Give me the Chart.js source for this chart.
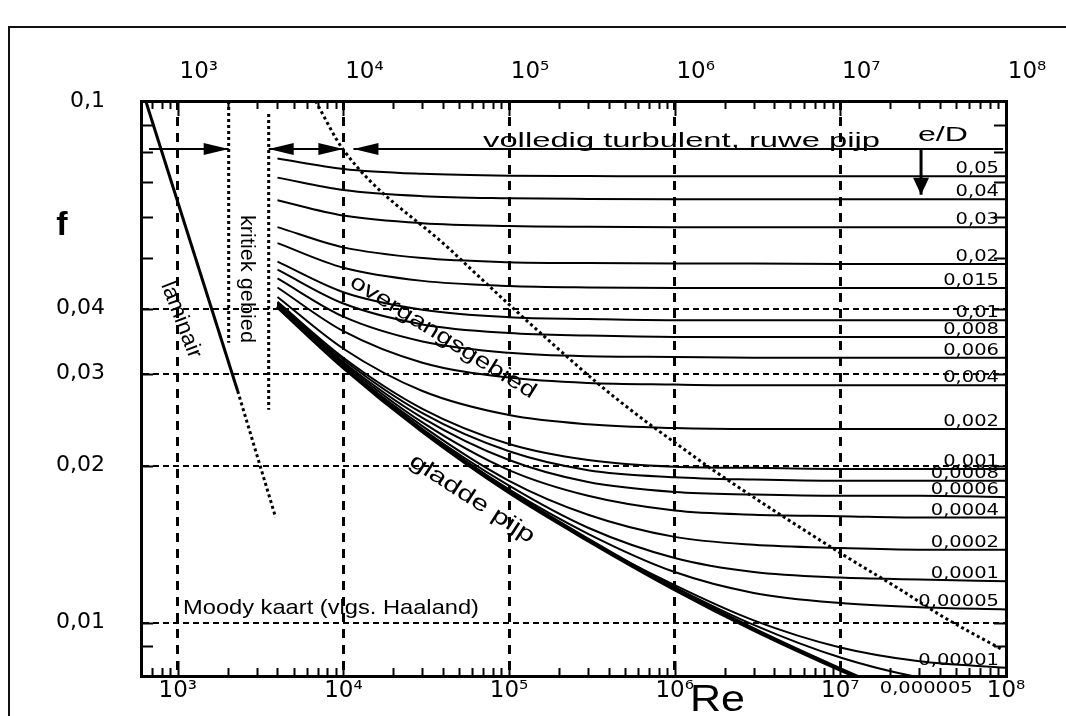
<!DOCTYPE html>
<html>
<head>
<meta charset="utf-8">
<title>Moody kaart</title>
<script src="https://cdn.jsdelivr.net/npm/chart.js@4.4.0/dist/chart.umd.min.js"></script>
<style>
  html, body { margin: 0; padding: 0; background: #fff; }
  #wrap { position: relative; width: 1066px; height: 716px; overflow: hidden; }
  #frame { position: absolute; left: 8px; top: 26px; right: -10px; bottom: -10px;
           border-left: 2px solid #111; border-top: 2px solid #111; pointer-events: none; }
</style>
</head>
<body>
<div id="wrap">
  <canvas id="moodyChart" width="1066" height="716"></canvas>
  <div id="frame"></div>
</div>
<script>
const reSamples = [4000, 1e4, 3e4, 1e5, 3e5, 1e6, 3e6, 1e7, 3e7, 1e8];

// friction factor f per relative roughness e/D
const f_0_05     = [0.0776, 0.0741, 0.0725, 0.0719, 0.0718, 0.0717, 0.0717, 0.0717, 0.0717, 0.0717];
const f_0_04     = [0.0713, 0.0675, 0.0657, 0.0651, 0.0649, 0.0648, 0.0648, 0.0648, 0.0648, 0.0648];
const f_0_03     = [0.0645, 0.0603, 0.0583, 0.0576, 0.0574, 0.0573, 0.0573, 0.0573, 0.0573, 0.0573];
const f_0_02     = [0.0573, 0.0524, 0.0500, 0.0491, 0.0489, 0.0488, 0.0488, 0.0487, 0.0487, 0.0487];
const f_0_015    = [0.0534, 0.0479, 0.0452, 0.0442, 0.0439, 0.0438, 0.0438, 0.0438, 0.0438, 0.0438];
const f_0_01     = [0.0492, 0.0430, 0.0398, 0.0385, 0.0382, 0.0380, 0.0380, 0.0380, 0.0380, 0.0380];
const f_0_008    = [0.0475, 0.0409, 0.0373, 0.0359, 0.0355, 0.0353, 0.0353, 0.0353, 0.0353, 0.0353];
const f_0_006    = [0.0457, 0.0386, 0.0346, 0.0329, 0.0324, 0.0323, 0.0322, 0.0322, 0.0322, 0.0322];
const f_0_004    = [0.0439, 0.0362, 0.0315, 0.0295, 0.0288, 0.0286, 0.0285, 0.0285, 0.0285, 0.0285];
const f_0_002    = [0.0421, 0.0335, 0.0278, 0.0250, 0.0240, 0.0236, 0.0235, 0.0235, 0.0235, 0.0235];
const f_0_001    = [0.0412, 0.0322, 0.0257, 0.0220, 0.0205, 0.0199, 0.0198, 0.0197, 0.0197, 0.0197];
const f_0_0008   = [0.0410, 0.0319, 0.0252, 0.0213, 0.0196, 0.0190, 0.0188, 0.0187, 0.0187, 0.0187];
const f_0_0006   = [0.0409, 0.0316, 0.0247, 0.0205, 0.0186, 0.0178, 0.0176, 0.0175, 0.0175, 0.0174];
const f_0_0004   = [0.0407, 0.0314, 0.0242, 0.0196, 0.0175, 0.0164, 0.0161, 0.0160, 0.0159, 0.0159];
const f_0_0002   = [0.0406, 0.0311, 0.0238, 0.0187, 0.0161, 0.0146, 0.0141, 0.0139, 0.0138, 0.0138];
const f_0_0001   = [0.0405, 0.0310, 0.0235, 0.0183, 0.0152, 0.0133, 0.0125, 0.0122, 0.0121, 0.0120];
const f_0_00005  = [0.0405, 0.0309, 0.0234, 0.0180, 0.0148, 0.0125, 0.0114, 0.0109, 0.0107, 0.0106];
const f_0_00001  = [0.0404, 0.0309, 0.0233, 0.0179, 0.0144, 0.0118, 0.0101, 0.00896, 0.00843, 0.00819];
const f_0_000005 = [0.0404, 0.0309, 0.0233, 0.0178, 0.0144, 0.0117, 0.0099, 0.00857, 0.00785, 0.00747];
const f_smooth   = [0.0404, 0.0309, 0.0233, 0.0178, 0.0144, 0.0116, 0.0097, 0.00813, 0.00700, 0.00602];

const roughCurves = [f_0_05, f_0_04, f_0_03, f_0_02, f_0_015, f_0_01, f_0_008, f_0_006, f_0_004,
  f_0_002, f_0_001, f_0_0008, f_0_0006, f_0_0004, f_0_0002, f_0_0001, f_0_00005, f_0_00001, f_0_000005];
const roughLabels = ['0,05', '0,04', '0,03', '0,02', '0,015', '0,01', '0,008', '0,006', '0,004',
  '0,002', '0,001', '0,0008', '0,0006', '0,0004', '0,0002', '0,0001', '0,00005', '0,00001', '0,000005'];

// laminar line (64/Re), solid part and dotted continuation
const laminarRe = [641, 2300];
const laminarF = [0.1, 0.0278];
const laminarDotRe = [2300, 3900];
const laminarDotF = [0.0278, 0.0159];

// critical zone borders
const criticalRe = [2030, 3540];
const criticalTopF = [0.1, 0.0944];
const criticalBottomF = [0.0344, 0.0256];

// border of the fully turbulent zone (dotted)
const boundaryRe = [6790, 1e4, 44400, 97800, 341000, 647000, 1.01e6, 1.71e6, 9.98e6, 2.30e7, 4.17e7, 9.46e7];
const boundaryF = [0.1, 0.0806, 0.0518, 0.0410, 0.0288, 0.0245, 0.0221, 0.0196, 0.0136, 0.01157, 0.01026, 0.00888];

// arrow row
const arrowF = 0.0809;
const arrowSegments = [[670, 2030], [3540, 1e4], [11500, 9.6e7]];
const arrowTips = [[2030, 'right'], [3540, 'left'], [1e4, 'right'], [11500, 'left']];
const edArrowRe = 3.07e7;
const edArrowF = [0.0809, 0.0661];

// axes
const xTickValues = [1e3, 1e4, 1e5, 1e6, 1e7, 1e8];
const xTickLabels = ['10\u00B3', '10\u2074', '10\u2075', '10\u2076', '10\u2077', '10\u2078'];
const yTickValues = [0.1, 0.04, 0.03, 0.02, 0.01];
const yTickLabels = ['0,1', '0,04', '0,03', '0,02', '0,01'];
const xMinorTicks = [700, 800, 900,
  2e3, 3e3, 4e3, 5e3, 6e3, 7e3, 8e3, 9e3,
  2e4, 3e4, 4e4, 5e4, 6e4, 7e4, 8e4, 9e4,
  2e5, 3e5, 4e5, 5e5, 6e5, 7e5, 8e5, 9e5,
  2e6, 3e6, 4e6, 5e6, 6e6, 7e6, 8e6, 9e6,
  2e7, 3e7, 4e7, 5e7, 6e7, 7e7, 8e7, 9e7];
const yMinorTicks = [0.09, 0.08, 0.07, 0.06, 0.05, 0.009];

const FONT = '"Liberation Sans", Arial, Helvetica, sans-serif';
const TICKFONT = '"DejaVu Sans", "Liberation Sans", sans-serif';

function pts(xs, ys) {
  return xs.map((x, i) => ({ x: x, y: ys[i] }));
}

function line(data, style) {
  return Object.assign({
    data: data, showLine: true, pointRadius: 0, borderColor: '#000',
    borderWidth: 2, fill: false, tension: 0
  }, style);
}

const datasets = [];
roughCurves.forEach((ys, i) => {
  datasets.push(line(pts(reSamples, ys), { cubicInterpolationMode: 'monotone', edLabel: roughLabels[i] }));
});
datasets.push(line(pts(reSamples, f_smooth), { cubicInterpolationMode: 'monotone', borderWidth: 4.5 }));
datasets.push(line(pts(laminarRe, laminarF), { borderWidth: 3 }));
datasets.push(line(pts(laminarDotRe, laminarDotF), { borderWidth: 3, borderDash: [3, 3] }));
criticalRe.forEach((re, i) => {
  datasets.push(line(pts([re, re], [criticalTopF[i], criticalBottomF[i]]), { borderWidth: 3, borderDash: [3, 3] }));
});
datasets.push(line(pts(boundaryRe, boundaryF), { borderWidth: 3, borderDash: [3, 3], cubicInterpolationMode: 'monotone' }));
arrowSegments.forEach(seg => {
  datasets.push(line(pts(seg, [arrowF, arrowF]), { borderWidth: 2 }));
});
datasets.push(line(pts([edArrowRe, edArrowRe], edArrowF), { borderWidth: 3 }));

function fitText(ctx, text, x, y, o) {
  ctx.save();
  ctx.font = (o.bold ? 'bold ' : '') + o.size + 'px ' + (o.family || FONT);
  ctx.fillStyle = '#000';
  ctx.textAlign = o.align || 'left';
  ctx.textBaseline = o.baseline || 'alphabetic';
  ctx.translate(x, y);
  if (o.angle) ctx.rotate(o.angle * Math.PI / 180);
  if (o.width) ctx.scale(o.width / ctx.measureText(text).width, 1);
  else if (o.sx) ctx.scale(o.sx, 1);
  ctx.fillText(text, 0, 0);
  ctx.restore();
}

const notes = [
  { text: 'volledig turbulent, ruwe pijp', x: 483, y: 147, size: 21, width: 397 },
  { text: 'e/D', x: 918, y: 141, size: 20, width: 50 },
  { text: 'Moody kaart (vlgs. Haaland)', x: 183, y: 614, size: 21, width: 296 },
  { text: 'kritiek gebied', x: 247, y: 279, size: 21, width: 128, angle: 90, align: 'center', baseline: 'middle' },
  { text: 'laminair', x: 181, y: 320, size: 22, width: 80, angle: 69, align: 'center', baseline: 'middle' },
  { text: 'overgangsgebied', x: 443, y: 337, size: 22, width: 215, angle: 32, align: 'center', baseline: 'middle' },
  { text: 'gladde pijp', x: 472, y: 499, size: 22, width: 145, angle: 33, align: 'center', baseline: 'middle' },
  { text: 'f', x: 62, y: 235, size: 34, bold: true, align: 'center' },
  { text: 'Re', x: 690, y: 711, size: 37, width: 55 }
];

// inside tick marks on all four sides
const insideTicks = {
  id: 'insideTicks',
  afterDatasetsDraw(chart) {
    const { ctx, chartArea: a, scales: { x, y } } = chart;
    ctx.save();
    ctx.strokeStyle = '#000';
    ctx.lineWidth = 2;
    ctx.beginPath();
    xMinorTicks.forEach(v => {
      const px = Math.round(x.getPixelForValue(v)) + 0.5;
      ctx.moveTo(px, a.top); ctx.lineTo(px, a.top + 8);
      ctx.moveTo(px, a.bottom); ctx.lineTo(px, a.bottom - 8);
    });
    xTickValues.forEach(v => {
      const px = Math.round(x.getPixelForValue(v)) + 0.5;
      ctx.moveTo(px, a.top); ctx.lineTo(px, a.top + 15);
      ctx.moveTo(px, a.bottom); ctx.lineTo(px, a.bottom - 15);
    });
    yMinorTicks.concat(yTickValues).forEach(v => {
      const py = Math.round(y.getPixelForValue(v)) + 0.5;
      ctx.moveTo(a.left, py); ctx.lineTo(a.left + 12, py);
      ctx.moveTo(a.right, py); ctx.lineTo(a.right - 12, py);
    });
    ctx.stroke();
    ctx.restore();
  }
};

// arrowheads and all the text on the chart
const annotations = {
  id: 'annotations',
  afterDraw(chart) {
    const { ctx, chartArea: a, scales: { x, y } } = chart;
    ctx.save();
    ctx.fillStyle = '#000';
    const ay = y.getPixelForValue(arrowF);
    arrowTips.forEach(([re, dir]) => {
      const px = x.getPixelForValue(re);
      const s = dir === 'right' ? -1 : 1;
      ctx.beginPath();
      ctx.moveTo(px, ay);
      ctx.lineTo(px + s * 25, ay - 6);
      ctx.lineTo(px + s * 25, ay + 6);
      ctx.closePath();
      ctx.fill();
    });
    const ex = x.getPixelForValue(edArrowRe);
    const ey = y.getPixelForValue(edArrowF[1]);
    ctx.beginPath();
    ctx.moveTo(ex, ey);
    ctx.lineTo(ex - 8, ey - 17);
    ctx.lineTo(ex + 8, ey - 17);
    ctx.closePath();
    ctx.fill();
    ctx.restore();

    // e/D labels at the right end of each curve
    chart.data.datasets.forEach(ds => {
      if (!ds.edLabel) return;
      const last = ds.data[ds.data.length - 1];
      const py = y.getPixelForValue(last.y);
      if (py > a.bottom) {
        fitText(ctx, ds.edLabel, x.getPixelForValue(3.3e7), a.bottom + 17,
          { size: 15, sx: 1.3, align: 'center', family: TICKFONT });
      } else {
        fitText(ctx, ds.edLabel, a.right - 7, py - 3, { size: 15, sx: 1.3, align: 'right', family: TICKFONT });
      }
    });

    notes.forEach(n => fitText(ctx, n.text, n.x, n.y, n));
  }
};

const tickFont = { family: TICKFONT, size: 23 };

// keep the plot box fixed: no extra room for half labels
function noPad(s) {
  s.paddingTop = 0; s.paddingBottom = 0; s.paddingLeft = 0; s.paddingRight = 0;
}

new Chart(document.getElementById('moodyChart'), {
  type: 'scatter',
  data: { datasets: datasets },
  options: {
    responsive: false,
    animation: false,
    devicePixelRatio: 1,
    layout: { padding: { left: 0, top: 0, right: 60, bottom: 0 } },
    plugins: { legend: { display: false }, tooltip: { enabled: false } },
    scales: {
      x: {
        type: 'logarithmic', position: 'bottom', min: 600, max: 1e8,
        afterBuildTicks: s => { s.ticks = xTickValues.map(v => ({ value: v })); },
        afterFit: s => { s.height = 40; noPad(s); },
        ticks: { callback: (v, i) => xTickLabels[i], font: tickFont, color: '#000', padding: 1, autoSkip: false, maxRotation: 0 },
        grid: { drawTicks: false, lineWidth: 3,
                color: c => (c.tick && c.tick.value >= 1e8) ? 'rgba(0,0,0,0)' : '#000' },
        border: { display: true, color: '#000', width: 3, dash: [9, 7] }
      },
      x2: {
        type: 'logarithmic', position: 'top', min: 600, max: 1e8,
        afterBuildTicks: s => { s.ticks = xTickValues.map(v => ({ value: v })); },
        afterFit: s => { s.height = 101; noPad(s); },
        ticks: { callback: (v, i) => xTickLabels[i], font: tickFont, color: '#000', padding: 15, labelOffset: 21, autoSkip: false, maxRotation: 0 },
        grid: { display: false, drawTicks: false },
        border: { display: true, color: '#000', width: 3 }
      },
      y: {
        type: 'logarithmic', position: 'left', min: 0.0079, max: 0.1,
        afterBuildTicks: s => { s.ticks = yTickValues.map(v => ({ value: v })); },
        afterFit: s => { s.width = 141; noPad(s); },
        ticks: { callback: (v, i) => yTickLabels[i], font: { family: TICKFONT, size: 22 }, color: '#000', padding: 36, autoSkip: false },
        grid: { drawTicks: false, lineWidth: 2,
                color: c => (c.tick && c.tick.value >= 0.1) ? 'rgba(0,0,0,0)' : '#000' },
        border: { display: true, color: '#000', width: 3, dash: [6, 4] }
      },
      y2: {
        type: 'logarithmic', position: 'right', min: 0.0079, max: 0.1,
        afterFit: s => { s.width = 0; noPad(s); },
        ticks: { display: false },
        grid: { display: false, drawTicks: false },
        border: { display: true, color: '#000', width: 3 }
      }
    }
  },
  plugins: [insideTicks, annotations]
});
</script>
</body>
</html>
